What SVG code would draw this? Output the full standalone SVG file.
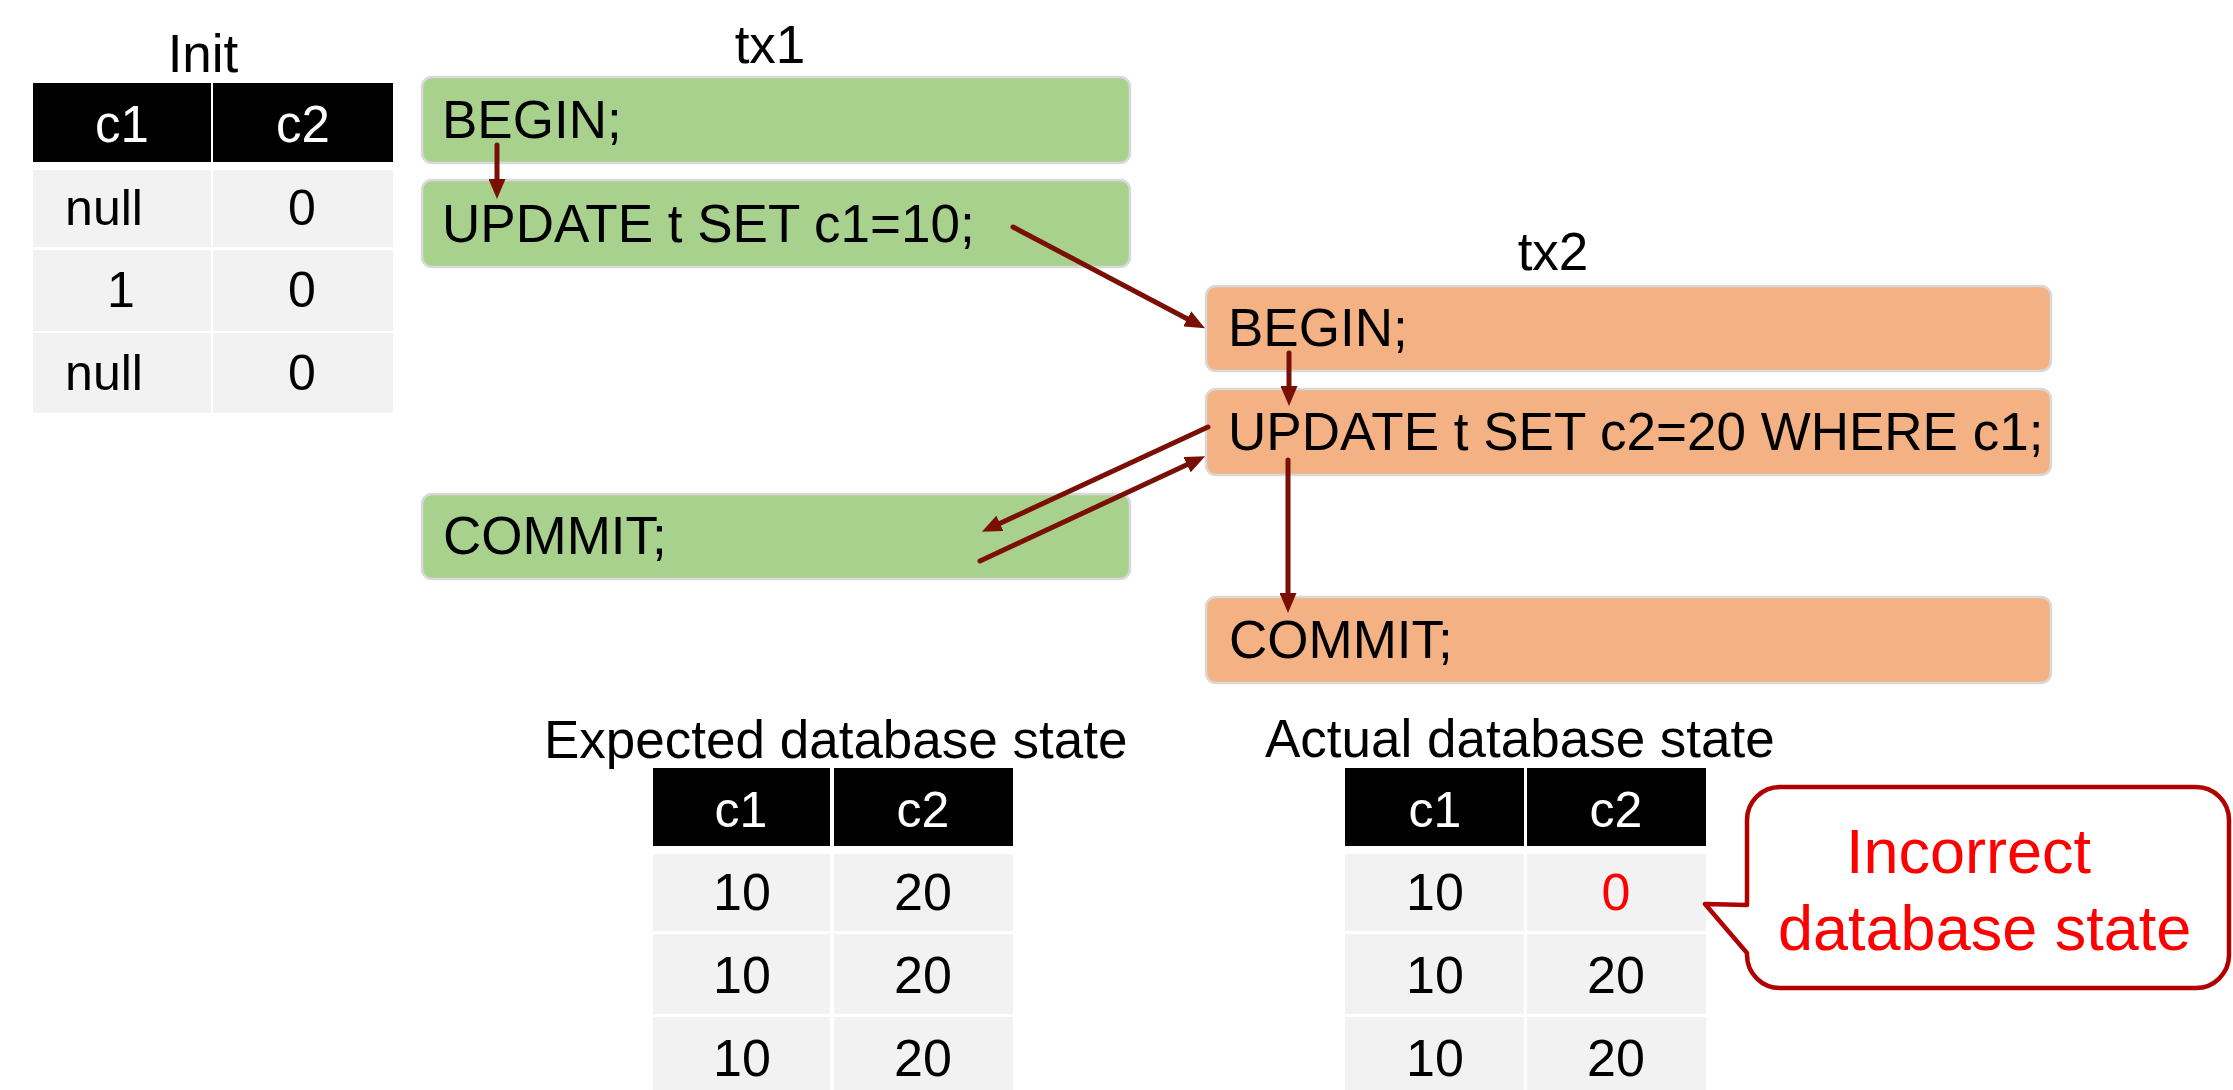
<svg xmlns="http://www.w3.org/2000/svg" width="2233" height="1090" viewBox="0 0 2233 1090">
<style>
  text { font-family: "Liberation Sans", Arial, sans-serif; }
  .title { font-size: 53px; fill: #000; }
  .stmt { font-size: 53px; fill: #000; }
  .hd { fill: #000; }
  .cell { fill: #f2f2f2; }
  .hdt { font-size: 51px; fill: #fff; text-anchor: middle; }
  .hdt2 { font-size: 50px; fill: #fff; text-anchor: middle; }
  .ct { font-size: 50px; fill: #000; text-anchor: middle; }
  .ct2 { font-size: 52px; fill: #000; text-anchor: middle; }
  .green { fill: #a9d18e; stroke: #d9d9d9; stroke-width: 2.5; }
  .orange { fill: #f4b183; stroke: #d9d9d9; stroke-width: 2.5; }
  .conn { fill: none; stroke: #7a0f06; stroke-width: 5; stroke-linecap: round; marker-end: url(#ah); }
  .callout { fill: #fff; stroke: #b00000; stroke-width: 4.5; stroke-linejoin: round; }
  .red { fill: #ff0000; }
</style>
<defs>
  <marker id="ah" markerUnits="userSpaceOnUse" markerWidth="20" markerHeight="17" refX="11" refY="8.5" orient="auto">
    <path d="M0,0 L20,8.5 L0,17 z" fill="#7a0f06"/>
  </marker>
</defs>

<g id="init-table">
  <text class="title" x="203" y="72" text-anchor="middle">Init</text>
  <rect class="hd" x="33" y="83" width="178" height="79"/>
  <rect class="hd" x="213" y="83" width="180" height="79"/>
  <text class="hdt" x="122" y="142">c1</text>
  <text class="hdt" x="303" y="142">c2</text>
  <rect class="cell" x="33" y="170" width="178" height="77"/>
  <rect class="cell" x="213" y="170" width="180" height="77"/>
  <rect class="cell" x="33" y="250" width="178" height="81"/>
  <rect class="cell" x="213" y="250" width="180" height="81"/>
  <rect class="cell" x="33" y="333" width="178" height="80"/>
  <rect class="cell" x="213" y="333" width="180" height="80"/>
  <text class="ct" x="104" y="225">null</text>
  <text class="ct" x="302" y="225">0</text>
  <text class="ct" x="121" y="307">1</text>
  <text class="ct" x="302" y="307">0</text>
  <text class="ct" x="104" y="390">null</text>
  <text class="ct" x="302" y="390">0</text>
</g>

<g id="tx1-label"><text class="title" x="770" y="63" text-anchor="middle">tx1</text></g>
<g id="tx2-label"><text class="title" x="1553" y="270" text-anchor="middle">tx2</text></g>

<g id="tx1-begin">
  <rect class="green" x="422" y="77" width="708" height="86" rx="10"/>
  <text class="stmt" x="442" y="138">BEGIN;</text>
</g>
<g id="tx1-update">
  <rect class="green" x="422" y="180" width="708" height="87" rx="10"/>
  <text class="stmt" x="442" y="242">UPDATE t SET c1=10;</text>
</g>
<g id="tx1-commit">
  <rect class="green" x="422" y="494" width="708" height="85" rx="10"/>
  <text class="stmt" x="443" y="554">COMMIT;</text>
</g>

<g id="tx2-begin">
  <rect class="orange" x="1206" y="286" width="845" height="85" rx="10"/>
  <text class="stmt" x="1228" y="346">BEGIN;</text>
</g>
<g id="tx2-update">
  <rect class="orange" x="1206" y="389" width="845" height="86" rx="10"/>
  <text class="stmt" x="1228" y="450">UPDATE t SET c2=20 WHERE c1;</text>
</g>
<g id="tx2-commit">
  <rect class="orange" x="1206" y="597" width="845" height="86" rx="10"/>
  <text class="stmt" x="1229" y="658">COMMIT;</text>
</g>

<g id="connectors">
  <path class="conn" d="M497,145 L497,190"/>
  <path class="conn" d="M1013,227 L1197,324"/>
  <path class="conn" d="M1289,353 L1289,397"/>
  <path class="conn" d="M1208,427 L990,528"/>
  <path class="conn" d="M980,561 L1197,460"/>
  <path class="conn" d="M1288,460 L1288,604"/>
</g>

<g id="expected-table">
  <text class="title" x="544" y="758">Expected database state</text>
  <rect class="hd" x="653" y="768" width="177" height="78"/>
  <rect class="hd" x="834" y="768" width="179" height="78"/>
  <text class="hdt2" x="741" y="827">c1</text>
  <text class="hdt2" x="923" y="827">c2</text>
  <rect class="cell" x="653" y="854" width="177" height="77"/>
  <rect class="cell" x="834" y="854" width="179" height="77"/>
  <rect class="cell" x="653" y="934" width="177" height="80"/>
  <rect class="cell" x="834" y="934" width="179" height="80"/>
  <rect class="cell" x="653" y="1017" width="177" height="80"/>
  <rect class="cell" x="834" y="1017" width="179" height="80"/>
  <text class="ct2" x="742" y="910">10</text>
  <text class="ct2" x="923" y="910">20</text>
  <text class="ct2" x="742" y="993">10</text>
  <text class="ct2" x="923" y="993">20</text>
  <text class="ct2" x="742" y="1076">10</text>
  <text class="ct2" x="923" y="1076">20</text>
</g>

<g id="actual-table">
  <text class="title" x="1265" y="757">Actual database state</text>
  <rect class="hd" x="1345" y="768" width="179" height="78"/>
  <rect class="hd" x="1527" y="768" width="179" height="78"/>
  <text class="hdt2" x="1435" y="827">c1</text>
  <text class="hdt2" x="1616" y="827">c2</text>
  <rect class="cell" x="1345" y="854" width="179" height="77"/>
  <rect class="cell" x="1527" y="854" width="179" height="77"/>
  <rect class="cell" x="1345" y="934" width="179" height="80"/>
  <rect class="cell" x="1527" y="934" width="179" height="80"/>
  <rect class="cell" x="1345" y="1017" width="179" height="80"/>
  <rect class="cell" x="1527" y="1017" width="179" height="80"/>
  <text class="ct2" x="1435" y="910">10</text>
  <text class="ct2 red" x="1616" y="910">0</text>
  <text class="ct2" x="1435" y="993">10</text>
  <text class="ct2" x="1616" y="993">20</text>
  <text class="ct2" x="1435" y="1076">10</text>
  <text class="ct2" x="1616" y="1076">20</text>
</g>

<g id="callout">
  <path class="callout" d="M1780,787 H2196 A33,33 0 0 1 2229,820 V955 A33,33 0 0 1 2196,988 H1780 A33,33 0 0 1 1747,955 V953 L1705,904 L1747,905 V820 A33,33 0 0 1 1780,787 Z"/>
  <text class="red" x="1846" y="873" font-size="63">Incorrect</text>
  <text class="red" x="1778" y="950" font-size="63">database state</text>
</g>
</svg>
